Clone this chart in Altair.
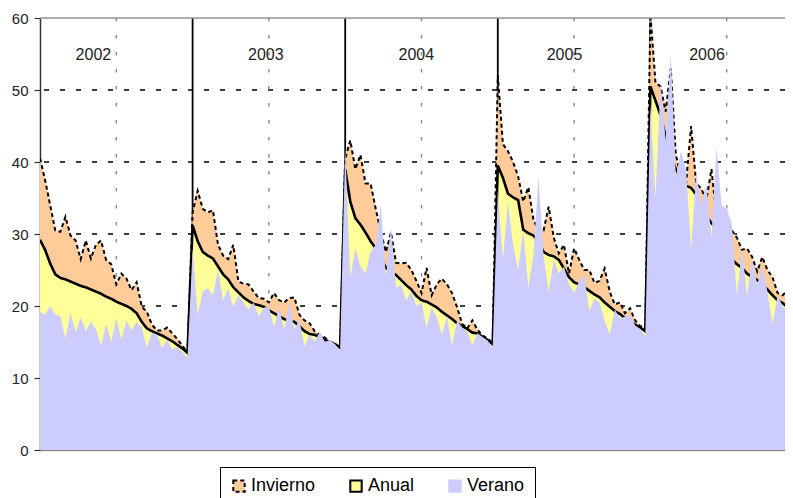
import altair as alt
import pandas as pd

years = [2002, 2003, 2004, 2005, 2006]
series_names = ["Invierno", "Anual", "Verano"]
series_colors = ["#FFCC99", "#FFFF99", "#CCCCFF"]
points_per_year = 30

inv_2002 = [40.5, 37.5, 34.0, 30.5, 30.3, 32.4, 29.8, 29.1, 26.5, 29.1, 26.6, 28.5, 29.1, 26.4, 25.8,
            23.0, 24.5, 23.8, 22.2, 23.3, 19.9, 19.2, 17.4, 16.6, 16.6, 17.0, 16.2, 15.4, 14.5, 13.5]
anu_2002 = [29.2, 27.8, 25.9, 24.4, 23.9, 23.7, 23.4, 23.1, 22.8, 22.6, 22.3, 22.0, 21.7, 21.3, 21.0,
            20.6, 20.3, 20.0, 19.6, 19.0, 17.8, 16.9, 16.5, 16.2, 15.9, 15.5, 15.1, 14.6, 14.1, 13.5]
ver_2002 = [19.2, 18.8, 20.0, 18.8, 18.6, 15.5, 19.0, 16.4, 18.4, 16.5, 17.8, 16.8, 14.5, 17.5, 15.0,
            18.3, 15.3, 18.0, 16.6, 17.8, 17.1, 14.2, 16.3, 16.0, 14.2, 15.3, 14.0, 14.3, 13.6, 12.8]

inv_2003 = [33.0, 36.0, 33.5, 33.0, 33.3, 28.5, 27.0, 26.5, 28.5, 23.4, 23.1, 23.0, 22.0, 21.1, 21.0,
            20.5, 21.8, 20.8, 20.5, 21.1, 21.2, 18.8, 18.0, 17.6, 16.5, 16.0, 15.6, 15.1, 14.7, 14.2]
anu_2003 = [31.2, 29.0, 27.5, 27.0, 26.6, 25.5, 24.4, 23.7, 22.6, 21.9, 21.2, 20.7, 20.3, 20.1, 19.9,
            19.4, 19.0, 18.6, 18.2, 17.9, 17.8, 17.2, 16.5, 16.1, 16.0, 15.7, 15.3, 15.0, 14.7, 14.2]
ver_2003 = [28.0, 18.8, 22.0, 22.5, 21.5, 25.0, 20.8, 22.5, 19.9, 21.5, 20.5, 19.5, 20.5, 18.5, 19.8,
            19.9, 17.1, 19.9, 16.7, 20.5, 16.8, 18.1, 14.4, 16.0, 15.1, 16.4, 15.0, 15.3, 14.7, 13.9]

inv_2004 = [40.5, 43.0, 39.0, 41.0, 37.0, 37.0, 33.5, 30.3, 27.5, 30.2, 26.0, 25.9, 26.0, 25.0, 23.5,
            21.8, 25.3, 21.5, 23.0, 23.8, 23.0, 21.8, 19.8, 17.5, 16.9, 18.0, 16.7, 15.9, 15.5, 14.8]
anu_2004 = [39.0, 34.5, 32.2, 31.3, 30.2, 29.0, 28.0, 26.7, 25.3, 24.7, 24.3, 23.6, 22.9, 22.3, 21.4,
            20.8, 20.6, 20.2, 19.8, 19.2, 18.7, 18.2, 17.6, 17.2, 16.8, 16.3, 16.2, 15.7, 15.3, 14.7]
ver_2004 = [42.0, 24.0, 28.0, 25.5, 24.5, 27.5, 28.5, 34.0, 24.0, 31.0, 22.5, 23.0, 20.8, 22.0, 20.0,
            20.5, 17.0, 19.8, 18.5, 16.0, 18.5, 14.5, 18.0, 17.0, 16.5, 14.5, 16.2, 15.7, 15.2, 14.2]

inv_2005 = [52.0, 42.5, 41.5, 40.0, 38.0, 34.5, 36.5, 32.0, 30.5, 30.5, 33.8, 29.5, 27.3, 28.5, 24.5,
            28.0, 26.4, 25.0, 25.0, 23.2, 23.5, 25.2, 22.0, 20.2, 20.5, 19.0, 19.7, 18.0, 17.2, 17.0]
anu_2005 = [39.5, 37.8, 35.6, 35.1, 34.7, 30.6, 30.1, 29.8, 29.0, 27.5, 27.1, 26.9, 26.4, 25.2, 24.0,
            23.3, 23.0, 22.6, 22.1, 21.6, 21.2, 20.5, 19.9, 19.3, 18.9, 18.3, 17.8, 17.4, 17.0, 16.5]
ver_2005 = [36.0, 26.5, 34.5, 28.5, 25.0, 30.5, 22.5, 27.0, 38.0, 27.0, 22.0, 26.4, 24.5, 25.5, 23.0,
            21.8, 23.5, 24.3, 19.2, 21.0, 20.5, 18.0, 16.0, 19.5, 18.3, 18.5, 18.8, 17.3, 16.8, 15.8]

inv_2006 = [60.5, 51.0, 50.5, 47.0, 53.0, 41.0, 38.0, 37.0, 45.0, 37.0, 36.3, 34.7, 39.0, 32.5, 32.5,
            31.8, 30.5, 29.5, 27.8, 28.0, 26.8, 24.8, 26.8, 25.0, 24.0, 21.8, 21.5, 22.2, 19.9, 19.5]
anu_2006 = [50.5, 48.5, 46.5, 43.5, 41.0, 39.0, 37.5, 36.7, 36.4, 35.5, 33.5, 32.5, 31.5, 30.8, 30.3,
            29.0, 26.5, 25.8, 25.3, 24.5, 24.0, 23.6, 23.0, 22.3, 21.5, 20.8, 20.4, 19.8, 19.3, 18.8]
ver_2006 = [48.0, 35.0, 51.0, 43.0, 55.0, 38.0, 41.5, 39.0, 28.0, 38.5, 34.0, 37.0, 29.5, 42.0, 34.0,
            33.5, 31.5, 21.5, 28.0, 21.5, 26.5, 23.0, 25.5, 22.0, 17.5, 21.5, 20.0, 19.0, 18.5, 18.0]

invierno = [inv_2002, inv_2003, inv_2004, inv_2005, inv_2006]
anual = [anu_2002, anu_2003, anu_2004, anu_2005, anu_2006]
verano = [ver_2002, ver_2003, ver_2004, ver_2005, ver_2006]

# year label positions (in years from start of 2002) and y value
year_label_t = [0.35, 1.48, 2.466, 3.437, 4.371]
year_label_y = 54.9
grid_values = [10, 20, 30, 40, 50]
year_bounds = [1, 2, 3, 4]
mid_lines = [0.5, 1.5, 2.5, 3.5, 4.5]

rows = []
for name, per_year in zip(series_names, [invierno, anual, verano]):
    for yi, vals in enumerate(per_year):
        for i, v in enumerate(vals):
            rows.append({"t": yi + i / points_per_year, "value": v, "series": name})
df = pd.DataFrame(rows)

FONT = "Liberation Sans"
x_scale = alt.Scale(domain=[0, 4.882], nice=False, zero=False)
y_scale = alt.Scale(domain=[0, 60], nice=False)
x_axis = alt.Axis(labels=False, ticks=False, grid=False, title=None, domainColor="#888888", domainWidth=1.5)
y_axis = alt.Axis(values=[0, 10, 20, 30, 40, 50, 60], grid=False, title=None, tickSize=6, labelPadding=6,
                  labelFont=FONT, labelFontSize=15, labelColor="#222222", domainColor="#333333",
                  tickColor="#333333", domainWidth=1.5, tickWidth=1.2)

X = alt.X("t:Q", scale=x_scale, axis=x_axis)
Y = alt.Y("value:Q", scale=y_scale, axis=y_axis)

legend = alt.Legend(title=None, orient="none", legendX=180, legendY=449, direction="horizontal",
                    symbolType="square", symbolSize=130, symbolStrokeWidth=2,
                    labelFont=FONT, labelFontSize=18, labelColor="#000000", labelOffset=3,
                    columnPadding=30, padding=10, strokeColor="#000000", fillColor="#FFFFFF")
fill_enc = alt.Fill("series:N", scale=alt.Scale(domain=series_names, range=series_colors), legend=legend)
stroke_enc = alt.Stroke("series:N", scale=alt.Scale(domain=series_names, range=["#000000", "#000000", "#CCCCFF"]), legend=legend)
dash_enc = alt.StrokeDash("series:N", scale=alt.Scale(domain=series_names, range=[[4, 3], [1, 0], [1, 0]]), legend=legend)

base = alt.Chart(df)

grid_h = alt.Chart(pd.DataFrame({"value": grid_values})).mark_rule(
    color="#000000", strokeWidth=1.4, strokeDash=[5, 11]).encode(y=Y)
top_border = alt.Chart(pd.DataFrame({"value": [60]})).mark_rule(
    color="#999999", strokeWidth=1.5).encode(y=Y)
mid_v = alt.Chart(pd.DataFrame({"t": mid_lines})).mark_rule(
    color="#888888", strokeWidth=1.4, strokeDash=[3.5, 13.5], clip=True).encode(x=X)
bounds_v = alt.Chart(pd.DataFrame({"t": year_bounds})).mark_rule(
    color="#000000", strokeWidth=1.8).encode(x=X)

def area_layer(name):
    return base.transform_filter(alt.datum.series == name).mark_area(
        clip=True, interpolate="linear").encode(x=X, y=Y, fill=fill_enc)

def line_layer(name, width):
    return base.transform_filter(alt.datum.series == name).mark_line(
        clip=True, strokeWidth=width, interpolate="linear").encode(
        x=X, y=Y, stroke=stroke_enc, strokeDash=dash_enc)

labels = alt.Chart(pd.DataFrame({"t": year_label_t, "value": [year_label_y] * 5,
                                 "label": [str(y) for y in years]})).mark_text(
    font=FONT, fontSize=16, color="#222222", align="center", baseline="middle").encode(
    x=X, y=Y, text="label:N")

chart = alt.layer(
    grid_h, mid_v, bounds_v,
    area_layer("Invierno"), line_layer("Invierno", 2),
    area_layer("Anual"), line_layer("Anual", 2.6),
    area_layer("Verano"),
    top_border, labels,
).properties(
    width=745, height=432,
    autosize=alt.AutoSizeParams(type="none"),
    padding={"left": 32, "top": 10, "right": 0, "bottom": 48},
).configure_view(stroke=None).configure(background="white")

chart.save("out.html", embed_options={"renderer": "svg", "actions": False})
